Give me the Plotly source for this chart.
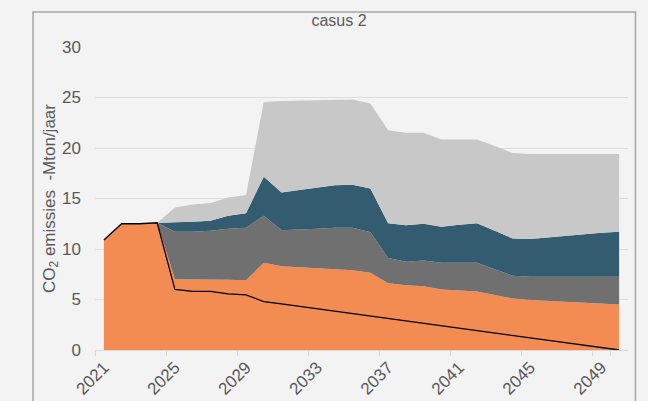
import plotly.graph_objects as go

years = [str(y) for y in range(2021, 2051)]
tick_labels = ["2021", "2025", "2029", "2033", "2037", "2041", "2045", "2049"]

# stacked layers (Mton/jaar), bottom to top
orange = [10.9, 12.5, 12.5, 12.6, 7.0, 7.0, 7.0, 6.95, 6.9, 8.65,
          8.3, 8.2, 8.1, 8.05, 7.9, 7.65, 6.6, 6.4, 6.3, 6.0,
          5.9, 5.8, 5.45, 5.1, 4.95, 4.85, 4.8, 4.7, 4.6, 4.5]
dark_gray = [0, 0, 0, 0, 4.7, 4.7, 4.8, 5.05, 5.2, 4.65,
             3.55, 3.7, 3.9, 4.05, 4.2, 4.0, 2.5, 2.35, 2.55, 2.65,
             2.75, 2.85, 2.55, 2.25, 2.3, 2.4, 2.45, 2.55, 2.65, 2.75]
teal = [0, 0, 0, 0, 0.95, 1.0, 1.0, 1.3, 1.45, 3.85,
        3.75, 3.95, 4.05, 4.2, 4.25, 4.35, 3.45, 3.6, 3.65, 3.55,
        3.75, 3.9, 3.8, 3.7, 3.75, 3.9, 4.1, 4.2, 4.35, 4.45]
light_gray = [0, 0, 0, 0, 1.45, 1.7, 1.75, 1.8, 1.8, 7.4,
              9.05, 8.85, 8.7, 8.5, 8.45, 8.4, 9.2, 9.15, 9.0, 8.65,
              8.45, 8.3, 8.4, 8.45, 8.4, 8.25, 8.05, 7.95, 7.8, 7.7]
# reference line (black)
target = [10.9, 12.5, 12.5, 12.6, 6.0, 5.8, 5.8, 5.55, 5.45, 4.8,
          4.56, 4.32, 4.08, 3.84, 3.6, 3.36, 3.12, 2.88, 2.64, 2.4,
          2.16, 1.92, 1.68, 1.44, 1.2, 0.96, 0.72, 0.48, 0.24, 0.0]

layers = [
    (orange, "#F28C52"),
    (dark_gray, "#707070"),
    (teal, "#335C70"),
    (light_gray, "#C8C8C8"),
]

FONT = "Liberation Sans, Arial, sans-serif"
TXT = "#595959"
BG = "#F3F3F3"

fig = go.Figure()
for vals, col in layers:
    fig.add_trace(go.Scatter(
        x=years, y=vals, mode="lines", stackgroup="one",
        line=dict(width=0, color=col), fillcolor=col,
        showlegend=False, hoverinfo="skip"))
fig.add_trace(go.Scatter(
    x=years, y=target, mode="lines",
    line=dict(width=1.3, color="#000000"),
    showlegend=False, hoverinfo="skip"))

fig.update_layout(
    width=648, height=401,
    margin=dict(l=95, r=20, t=47, b=51, autoexpand=False),
    paper_bgcolor=BG, plot_bgcolor=BG,
    font=dict(family=FONT, size=17, color=TXT),
    title=dict(text="casus 2", x=339 / 648, xanchor="center",
               y=1 - 20.5 / 401, yanchor="middle",
               font=dict(size=16, color=TXT)),
    xaxis=dict(type="category", range=[-0.5, 29.5], automargin=False,
               tickmode="array", tickvals=tick_labels, ticktext=tick_labels,
               tickson="boundaries", ticks="outside", ticklen=5,
               tickcolor="#D9D9D9", tickangle=-45,
               showgrid=False, showline=True, linecolor="#D9D9D9",
               linewidth=1, zeroline=False,
               tickfont=dict(size=17, color=TXT)),
    yaxis=dict(range=[0, 30], tickmode="linear", tick0=0, dtick=5,
               automargin=False,
               showgrid=True, gridcolor="#DEDEDE", gridwidth=1,
               zeroline=False, showline=False, ticks="",
               ticklabelstandoff=13,
               tickfont=dict(size=17, color=TXT),
               title=dict(text="CO<sub>2</sub> emissies\u00a0\u00a0-Mton/jaar",
                          font=dict(size=17, color=TXT), standoff=2)),
)

# outer chart frame
fig.add_shape(type="rect", xref="paper", yref="paper",
              x0=(33 - 95) / 533, x1=(635.5 - 95) / 533,
              y0=(350 - 420) / 303, y1=(350 - 12) / 303,
              line=dict(color="#A6A6A6", width=1.5), fillcolor="rgba(0,0,0,0)",
              layer="below")

fig.write_html("out.html",
               config={"displayModeBar": False},
               post_script="document.body.style.margin='0';"
                           "document.body.style.background='#F3F3F3';")
